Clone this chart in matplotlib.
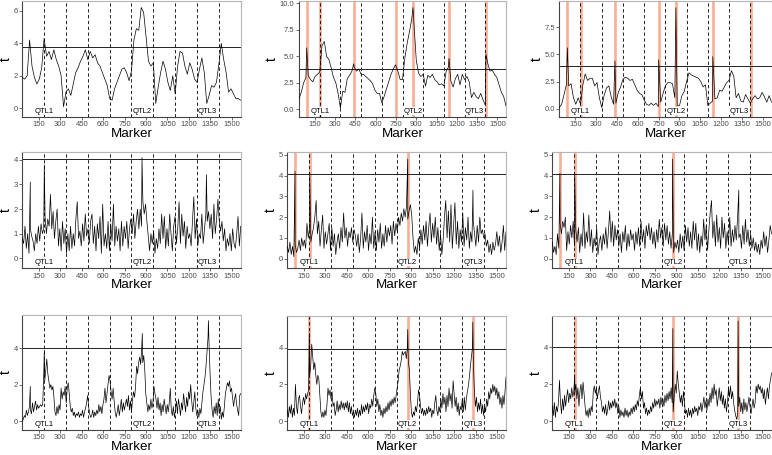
import numpy as np
import matplotlib
matplotlib.use("Agg")
import matplotlib.pyplot as plt
import matplotlib.transforms as mtransforms

plt.rcParams['font.family'] = ['Liberation Sans', 'DejaVu Sans']

# marker range and chromosome boundaries
first_marker, last_marker = 34, 1563
chrom_bounds = [186.5, 339.5, 492.5, 645.5, 798.5, 951.5, 1104.5, 1257.5, 1410.5]
qtl_pos = [188, 875, 1331]
qtl_names = ['QTL1', 'QTL2', 'QTL3']
x_ticks = [150, 300, 450, 600, 750, 900, 1050, 1200, 1350, 1500]

# highlighted (detected) markers
hl_row1 = [91, 189, 437, 750, 875, 1141, 1414]
hl_row2 = [88, 190, 875]
hl_row3 = [189, 875, 1330]

# t statistics (uniform marker grid per panel)
r1c1 = [1.9, 1.8, 2.0, 4.2, 2.6, 1.9, 1.5, 1.8, 2.5, 4.3,
        3.2, 3.5, 3.0, 3.6, 3.0, 2.6, 2.0, 0.1, 1.0, 1.2,
        0.8, 1.5, 2.2, 2.5, 2.9, 3.2, 3.6, 3.0, 3.5, 3.1,
        3.3, 2.8, 2.6, 2.2, 1.8, 1.4, 0.6, 0.5, 1.2, 1.6,
        2.0, 2.4, 2.5, 2.2, 1.7, 2.3, 4.2, 4.9, 4.8, 6.2,
        5.9, 4.4, 2.9, 2.6, 2.8, 0.3, 1.3, 2.2, 2.9, 2.4,
        1.6, 1.1, 2.0, 0.9, 2.6, 3.5, 3.4, 2.6, 2.1, 2.8,
        2.4, 1.8, 1.6, 2.4, 3.1, 2.2, 0.3, 0.8, 1.4, 1.3,
        1.6, 2.7, 4.0, 3.0, 2.2, 1.0, 1.2, 0.9, 0.6, 0.6,
        0.5]
r1c2 = [1.0, 1.6, 2.5, 3.0, 3.2, 2.8, 2.6, 3.1, 3.3, 3.5,
        6.0, 6.4, 5.0, 4.7, 3.9, 3.0, 2.5, 1.5, 0.1, 1.7,
        1.6, 2.9, 3.2, 3.6, 4.0, 3.6, 3.8, 3.3, 3.3, 3.1,
        2.9, 2.7, 2.4, 1.8, 1.5, 1.5, 0.6, 1.2, 1.9, 2.6,
        3.3, 3.8, 4.2, 3.6, 2.8, 2.8, 4.8, 6.2, 7.3, 8.5,
        8.0, 4.6, 3.4, 3.1, 3.3, 2.2, 3.2, 3.0, 3.3, 2.8,
        2.6, 2.3, 2.4, 2.2, 3.6, 4.0, 2.7, 2.1, 2.9, 3.3,
        2.3, 3.3, 2.8, 3.1, 2.6, 1.1, 1.6, 1.2, 1.0, 1.5,
        0.9, 0.4, 4.4, 3.6, 3.7, 3.3, 3.0, 2.3, 1.6, 1.2,
        0.3]
r1c3 = [0.1, 0.4, 1.3, 2.2, 2.1, 2.3, 1.0, 0.4, 1.0, 0.4,
        2.2, 3.2, 2.6, 2.8, 2.8, 2.1, 2.4, 1.0, 0.1, 1.2,
        1.9, 2.1, 1.1, 0.4, 0.5, 1.5, 2.0, 2.7, 2.9, 2.8,
        2.6, 2.7, 2.2, 1.7, 1.4, 1.3, 0.8, 0.4, 0.3, 0.5,
        0.3, 0.5, 0.2, 0.6, 1.4, 2.1, 2.4, 2.4, 2.3, 1.0,
        0.3, 0.3, 1.2, 1.6, 2.5, 3.3, 3.1, 3.0, 2.9, 2.8,
        2.5, 2.0, 2.2, 0.3, 0.5, 0.7, 0.9, 1.0, 1.7, 1.6,
        2.0, 2.4, 2.6, 3.5, 3.0, 1.0, 1.4, 0.7, 0.6, 1.3,
        0.9, 0.5, 0.9, 1.2, 0.9, 1.0, 1.5, 1.1, 0.6, 1.2,
        0.6]
r2c1 = [0.8, 0.6, 1.3, 0.4, 1.0, 0.2, 1.2, 0.9, 0.7, 0.3, 1.0, 0.6, 1.3, 0.7,
        1.4, 1.0, 1.2, 1.7, 1.0, 1.6, 1.3, 2.6, 1.2, 1.9, 0.8, 1.5, 2.0, 0.5,
        1.2, 0.3, 1.5, 0.6, 1.2, 0.2, 1.0, 0.3, 1.3, 0.4, 1.0, 0.5, 1.6, 2.3,
        0.8, 1.1, 0.5, 1.4, 0.7, 1.8, 0.9, 1.2, 0.6, 1.5, 1.8, 0.6, 1.3, 0.3,
        1.4, 0.8, 1.7, 0.2, 2.2, 0.5, 1.0, 0.4, 1.5, 0.3, 1.4, 0.7, 2.2, 0.5,
        1.3, 0.7, 1.2, 0.3, 1.5, 0.5, 1.3, 0.8, 1.5, 0.4, 1.2, 1.6, 1.0, 1.8,
        0.8, 1.5, 2.0, 1.2, 2.0, 1.3, 2.3, 1.8, 2.2, 1.5, 0.9, 0.3, 1.0, 0.6,
        1.1, 0.2, 0.8, 0.4, 1.2, 0.6, 1.8, 0.8, 1.7, 0.4, 1.2, 0.5, 1.8, 1.0,
        0.3, 1.3, 1.7, 0.6, 1.2, 2.3, 0.6, 1.8, 0.9, 1.5, 0.4, 1.3, 0.8, 1.0,
        0.5, 1.5, 2.5, 0.8, 1.6, 0.5, 1.0, 0.8, 1.8, 0.6, 1.2, 1.8, 1.5, 1.9,
        1.2, 1.8, 0.8, 2.2, 1.0, 1.6, 2.4, 1.5, 1.1, 1.5, 0.7, 1.2, 0.3, 0.8,
        0.5, 1.0, 0.3, 1.2, 0.6, 0.4, 1.0, 1.7, 0.5, 1.3]
r2c2 = [0.6, 0.3, 0.8, 0.2, 0.6, 0.1, 0.7, 0.3, 0.5, 0.9, 0.4, 1.0, 0.6, 0.9,
        0.5, 1.7, 1.0, 1.5, 0.8, 1.2, 1.5, 2.0, 2.8, 1.2, 1.8, 0.6, 1.4, 2.1,
        0.5, 1.3, 0.7, 1.2, 1.7, 0.4, 1.5, 0.6, 1.2, 0.2, 0.8, 1.2, 0.5, 1.5,
        0.8, 2.2, 1.0, 1.5, 0.6, 1.3, 1.0, 1.5, 0.8, 1.4, 1.1, 0.6, 1.2, 0.3,
        1.0, 2.2, 0.5, 1.3, 0.8, 1.6, 0.4, 1.2, 0.7, 2.0, 0.5, 1.3, 0.4, 1.4,
        0.8, 1.7, 0.5, 1.2, 0.6, 1.6, 0.8, 1.5, 1.1, 1.6, 0.7, 1.8, 1.1, 1.7,
        1.3, 2.0, 1.6, 2.2, 1.8, 2.4, 2.0, 2.5, 1.9, 2.3, 2.6, 2.1, 1.0, 0.3,
        0.6, 0.2, 1.0, 0.5, 1.4, 0.7, 1.6, 0.9, 1.8, 0.6, 1.5, 2.2, 0.8, 1.7,
        1.0, 2.0, 0.7, 1.5, 0.4, 1.2, 0.2, 0.9, 2.0, 2.8, 1.0, 2.3, 0.8, 2.6,
        0.5, 1.6, 2.7, 0.7, 1.8, 0.5, 1.4, 0.8, 2.2, 0.6, 1.5, 0.9, 2.0, 0.5,
        1.3, 0.8, 1.8, 1.2, 0.6, 1.6, 0.8, 2.0, 1.2, 1.4, 1.0, 1.2, 0.6, 0.9,
        0.3, 0.7, 0.2, 0.8, 0.4, 0.7, 1.3, 0.6, 1.1, 0.3, 0.8, 1.6, 0.4, 1.3]
r2c3 = [0.8, 0.3, 0.6, 0.2, 1.2, 0.5, 1.7, 1.2, 1.8, 1.5, 2.0, 0.4, 1.3, 0.7,
        1.6, 1.0, 1.8, 0.6, 1.4, 0.8, 1.5, 0.3, 1.2, 0.6, 2.2, 0.5, 1.3, 0.8,
        2.1, 0.6, 1.4, 0.3, 1.0, 0.6, 1.5, 0.2, 0.8, 1.1, 0.4, 1.2, 0.7, 1.5,
        0.5, 1.3, 2.3, 0.8, 1.8, 0.6, 1.6, 0.9, 1.4, 0.6, 1.2, 0.3, 1.3, 0.8,
        1.6, 0.4, 1.2, 0.6, 1.4, 0.9, 1.2, 0.4, 1.3, 0.7, 1.5, 0.6, 1.8, 0.8,
        1.4, 0.5, 1.6, 1.1, 1.7, 0.9, 1.5, 0.7, 1.3, 0.5, 1.4, 0.8, 1.9, 1.0,
        1.5, 0.6, 1.7, 0.9, 1.6, 0.7, 1.3, 0.5, 1.2, 0.3, 0.8, 0.5, 0.9, 0.3,
        1.2, 0.5, 1.1, 0.4, 1.6, 0.8, 1.5, 0.6, 1.3, 0.5, 1.8, 0.9, 1.7, 0.4,
        1.2, 0.3, 1.1, 0.6, 1.9, 0.9, 1.6, 0.4, 1.4, 2.2, 2.8, 1.0, 1.8, 0.6,
        2.1, 0.8, 1.5, 0.5, 2.0, 1.0, 1.7, 0.5, 1.3, 0.7, 2.0, 0.6, 1.4, 0.8,
        1.6, 0.9, 2.0, 1.0, 1.2, 0.5, 1.6, 0.7, 1.9, 0.8, 1.4, 0.6, 1.2, 0.5,
        1.0, 0.4, 0.8, 0.3, 0.7, 0.2, 0.9, 0.5, 1.3, 0.6, 1.1, 0.3, 0.9, 1.6,
        1.2]
r3c1 = [0.0, 0.1, 0.3, 0.2, 0.6, 0.3, 0.5, 0.8, 0.6, 0.4, 1.0, 0.5, 0.8, 1.1,
        0.6, 0.9, 0.7, 0.8, 0.9, 0.8, 0.9, 2.5, 2.2, 2.8, 3.4, 2.6, 2.2, 1.8,
        2.0, 1.7, 1.9, 1.3, 0.5, 0.3, 0.8, 0.4, 0.9, 0.6, 1.8, 1.2, 1.6, 1.4,
        1.9, 1.0, 1.8, 2.1, 1.5, 0.8, 0.5, 0.7, 0.3, 0.5, 0.2, 0.4, 0.3, 0.5,
        0.2, 0.4, 0.3, 0.6, 0.2, 0.5, 0.7, 1.0, 1.4, 0.8, 0.4, 0.2, 0.3, 0.6,
        0.2, 0.5, 0.3, 0.6, 0.4, 0.9, 0.5, 0.8, 0.4, 0.9, 1.2, 1.8, 1.0, 1.5,
        2.0, 2.5, 2.2, 1.6, 1.2, 1.8, 1.1, 0.5, 0.2, 0.5, 0.9, 0.3, 0.7, 1.2,
        0.5, 1.0, 0.6, 0.9, 1.2, 0.8, 1.4, 0.6, 1.1, 0.5, 1.2, 1.6, 1.3, 1.9,
        3.0, 2.6, 3.2, 3.5, 3.1, 4.0, 3.2, 3.6, 2.8, 1.5, 1.0, 0.5, 0.9, 0.6,
        1.2, 0.7, 1.0, 1.9, 1.5, 1.2, 0.7, 1.3, 0.6, 1.0, 0.3, 0.9, 0.5, 1.2,
        0.8, 0.4, 0.9, 0.5, 1.0, 1.8, 0.6, 0.3, 0.8, 0.2, 0.6, 1.1, 0.4, 1.2,
        0.8, 0.3, 1.0, 0.6, 1.5, 1.0, 0.5, 1.3, 0.8, 1.6, 1.2, 2.0, 1.1, 0.5,
        1.0, 1.6, 0.7, 0.3, 0.6, 0.2, 0.7, 0.4, 1.0, 1.6, 2.0, 2.4, 3.0, 3.8,
        4.6, 4.2, 2.6, 1.3, 0.6, 0.2, 0.8, 0.4, 1.0, 0.3, 1.2, 0.4, 0.8, 0.1,
        0.5, 0.2, 0.8, 1.5, 1.8, 2.1, 1.9, 2.2, 1.6, 1.8, 1.3, 0.8, 1.2, 1.5,
        0.9, 0.6, 0.3, 1.4, 1.5]
r3c2 = [0.6, 0.2, 0.8, 0.4, 0.9, 0.2, 0.7, 0.3, 2.0, 0.8, 0.4, 1.2, 1.4, 0.8,
        0.4, 1.0, 1.3, 0.9, 1.5, 1.2, 1.5, 1.7, 2.5, 3.0, 4.2, 3.5, 2.8, 3.2,
        2.5, 2.0, 2.5, 2.3, 1.4, 0.5, 0.2, 0.5, 0.2, 0.6, 0.3, 0.9, 1.8, 1.4,
        1.7, 1.2, 1.6, 0.8, 1.0, 0.3, 0.6, 1.1, 0.5, 0.9, 0.6, 1.1, 0.7, 1.0,
        0.6, 1.0, 0.7, 1.1, 0.5, 1.0, 0.4, 0.8, 0.3, 0.5, 0.2, 0.6, 0.3, 0.7,
        0.2, 0.6, 0.3, 0.9, 0.4, 0.8, 0.5, 0.9, 0.6, 1.0, 0.4, 0.9, 0.7, 1.2,
        0.8, 1.4, 1.8, 1.5, 0.8, 1.2, 0.5, 0.9, 0.3, 0.6, 0.2, 0.7, 0.4, 0.8,
        0.5, 1.0, 0.6, 1.1, 0.8, 1.2, 0.9, 1.3, 1.0, 1.4, 1.8, 2.2, 2.8, 3.0,
        3.3, 3.8, 3.6, 3.7, 3.8, 3.4, 4.0, 3.2, 2.8, 1.5, 0.5, 0.2, 0.5, 0.3,
        0.8, 0.5, 1.0, 1.7, 1.4, 0.8, 0.4, 0.7, 0.3, 0.6, 0.3, 0.7, 0.4, 0.8,
        0.5, 0.7, 0.2, 0.6, 0.4, 1.0, 1.4, 0.6, 0.3, 0.8, 0.5, 1.2, 0.7, 1.5,
        0.9, 1.3, 0.5, 1.4, 0.8, 1.8, 1.1, 1.5, 0.7, 2.2, 1.5, 0.8, 1.3, 0.5,
        1.0, 0.3, 0.8, 0.6, 1.2, 0.5, 1.3, 0.6, 1.2, 1.6, 1.9, 2.4, 3.0, 3.5,
        4.0, 3.0, 1.5, 0.8, 1.3, 0.5, 1.0, 0.6, 1.2, 0.4, 0.9, 0.3, 0.8, 0.5,
        1.2, 0.8, 1.6, 1.2, 1.8, 1.5, 2.0, 1.6, 1.9, 1.4, 1.8, 1.2, 1.6, 0.9,
        1.3, 0.7, 1.4, 0.9, 1.6, 2.4]
r3c3 = [0.8, 0.3, 1.0, 0.2, 0.8, 0.5, 1.0, 2.2, 1.0, 0.4, 1.2, 0.6, 1.4, 0.8,
        1.3, 1.7, 1.0, 1.5, 1.2, 1.8, 1.3, 1.6, 1.5, 2.0, 1.2, 1.8, 0.8, 1.6,
        2.0, 1.2, 2.1, 1.5, 0.8, 0.3, 0.6, 0.2, 0.7, 0.3, 0.8, 0.5, 1.6, 1.9,
        1.5, 1.8, 1.2, 1.6, 1.9, 1.3, 1.0, 0.5, 0.8, 0.4, 0.9, 0.3, 0.6, 1.1,
        0.6, 1.0, 0.7, 1.1, 0.8, 1.2, 0.7, 1.0, 0.4, 0.8, 0.2, 0.6, 0.3, 0.5,
        0.2, 0.7, 0.3, 0.6, 0.2, 0.5, 0.3, 0.7, 0.4, 0.8, 0.5, 0.9, 0.6, 1.1,
        0.8, 1.4, 1.8, 1.2, 1.6, 0.7, 1.0, 0.4, 0.7, 0.3, 0.6, 0.4, 0.8, 0.5,
        1.0, 0.7, 1.2, 0.8, 1.1, 0.9, 1.2, 0.7, 1.3, 0.9, 1.2, 0.8, 1.4, 1.0,
        1.5, 1.1, 1.6, 1.2, 1.8, 1.0, 0.5, 1.3, 2.0, 1.5, 2.7, 2.0, 1.5, 1.0,
        1.4, 0.8, 1.6, 1.0, 0.4, 0.6, 0.2, 0.7, 0.3, 0.6, 0.2, 0.7, 0.4, 0.8,
        0.5, 0.7, 0.3, 0.8, 0.6, 1.0, 0.5, 0.9, 1.3, 0.7, 1.1, 0.6, 1.2, 0.8,
        1.5, 1.0, 1.8, 1.2, 2.0, 1.4, 1.7, 0.8, 1.3, 1.8, 1.1, 1.6, 0.9, 1.4,
        0.7, 1.2, 0.5, 1.0, 1.8, 1.3, 1.9, 1.2, 1.6, 1.0, 0.6, 0.3, 0.1, 0.4,
        0.8, 1.3, 0.5, 1.0, 0.4, 1.2, 0.6, 1.0, 0.5, 0.9, 1.3, 0.8, 0.4, 0.8,
        1.2, 0.7, 1.0, 1.9, 1.5, 2.0, 1.7, 1.9, 1.5, 1.8, 1.2, 1.7, 0.9, 1.4,
        1.8, 1.2, 1.9, 2.2, 2.6]

# sharp peaks (marker, t)
pk_r1c1, pv_r1c1 = [], []
pk_r1c2, pv_r1c2 = [91, 438, 876, 1142, 1415], [5.8, 4.3, 9.6, 4.8, 5.2]
pk_r1c3, pv_r1c3 = [92, 435, 750, 874, 1140], [5.6, 4.4, 4.5, 9.3, 4.8]
pk_r2c1, pv_r2c1 = [90, 188, 872, 1323], [3.1, 3.8, 4.1, 3.4]
pk_r2c2, pv_r2c2 = [88, 191, 876, 1332], [4.2, 4.1, 4.8, 3.3]
pk_r2c3, pv_r2c3 = [87, 190, 873, 1335], [4.1, 4.1, 4.8, 3.3]
pk_r3c1, pv_r3c1 = [90, 188, 874, 1337], [1.9, 3.9, 4.8, 5.5]
pk_r3c2, pv_r3c2 = [188, 876, 1331], [4.8, 5.0, 5.4]
pk_r3c3, pv_r3c3 = [190, 875, 1330], [2.5, 5.0, 5.4]

# significance thresholds
thresholds = [3.75, 3.77, 3.96, 4.04, 4.06, 4.06, 3.98, 3.95, 3.98]

panels = [
    (r1c1, pk_r1c1, pv_r1c1, []),
    (r1c2, pk_r1c2, pv_r1c2, hl_row1),
    (r1c3, pk_r1c3, pv_r1c3, hl_row1),
    (r2c1, pk_r2c1, pv_r2c1, []),
    (r2c2, pk_r2c2, pv_r2c2, hl_row2),
    (r2c3, pk_r2c3, pv_r2c3, hl_row2),
    (r3c1, pk_r3c1, pv_r3c1, []),
    (r3c2, pk_r3c2, pv_r3c2, hl_row3),
    (r3c3, pk_r3c3, pv_r3c3, hl_row3),
]

# layout in pixels: left, right, top, bottom
boxes = [
    (22.3, 240.7, 1, 117), (299, 506, 1, 117), (559.3, 771.5, 1, 117),
    (22.3, 240.7, 152.3, 268.3), (287.3, 506, 152.3, 268.3), (552.3, 771.5, 152.3, 268.3),
    (22.3, 240.7, 315, 430), (287.3, 506, 315.7, 430), (552.3, 771.5, 315.7, 430),
]
ylims = [(-0.53, 6.6), (-0.73, 10.22), (-0.77, 9.92),
         (-0.41, 4.31), (-0.46, 5.12), (-0.46, 5.12),
         (-0.49, 5.81), (-0.49, 5.75), (-0.48, 5.69)]
yticks = [([0, 2, 4, 6], ['0', '2', '4', '6']),
          ([0, 2.5, 5, 7.5, 10], ['0.0', '2.5', '5.0', '7.5', '10.0']),
          ([0, 2.5, 5, 7.5], ['0.0', '2.5', '5.0', '7.5']),
          ([0, 1, 2, 3, 4], ['0', '1', '2', '3', '4']),
          ([0, 1, 2, 3, 4, 5], ['0', '1', '2', '3', '4', '5']),
          ([0, 1, 2, 3, 4, 5], ['0', '1', '2', '3', '4', '5']),
          ([0, 2, 4], ['0', '2', '4']),
          ([0, 2, 4], ['0', '2', '4']),
          ([0, 2, 4], ['0', '2', '4'])]

W, H = 772, 455
fig = plt.figure(figsize=(W / 100, H / 100), dpi=100)

for i, (vals, pk, pv, hl) in enumerate(panels):
    l, r, t, b = boxes[i]
    ax = fig.add_axes([l / W, 1 - b / H, (r - l) / W, (b - t) / H])

    x = np.concatenate([np.linspace(first_marker, last_marker, len(vals)), pk])
    y = np.concatenate([vals, pv])
    order = np.argsort(x, kind='stable')
    x, y = x[order], y[order]

    for m in hl:
        ax.axvline(m, color='#F9AE96', lw=1.9, zorder=1)
    for cb in chrom_bounds:
        ax.axvline(cb, color='black', lw=0.6, ls=(0, (4, 3)), zorder=2)
    ax.axhline(thresholds[i], color='#222222', lw=0.7, zorder=2)
    ax.plot(x, y, color='black', lw=0.5, zorder=3)

    trans = mtransforms.blended_transform_factory(ax.transData, ax.transAxes)
    for q, name in zip(qtl_pos, qtl_names):
        ax.text(q, 0.05, name, transform=trans, ha='center', va='center',
                fontsize=5.5, color='black', zorder=4,
                bbox=dict(facecolor='white', edgecolor='none', pad=0.2))

    ax.set_xlim(first_marker, last_marker)
    ax.set_ylim(*ylims[i])
    ax.set_xticks(x_ticks)
    ax.set_xticklabels([str(v) for v in x_ticks])
    ax.set_yticks(yticks[i][0])
    ax.set_yticklabels(yticks[i][1])
    ax.tick_params(labelsize=5.5, labelcolor='#4d4d4d', color='#333333',
                   length=2, width=0.5, pad=1.2)
    for side in ['left', 'bottom']:
        ax.spines[side].set_color('#444444')
        ax.spines[side].set_linewidth(0.8)
    for side in ['top', 'right']:
        ax.spines[side].set_color('#b5b5b5')
        ax.spines[side].set_linewidth(0.8)
    ax.set_xlabel('Marker', fontsize=9.6, labelpad=-0.5)
    ax.set_ylabel('t', fontsize=10, labelpad=0.5)

fig.savefig('out.png', dpi=100)
